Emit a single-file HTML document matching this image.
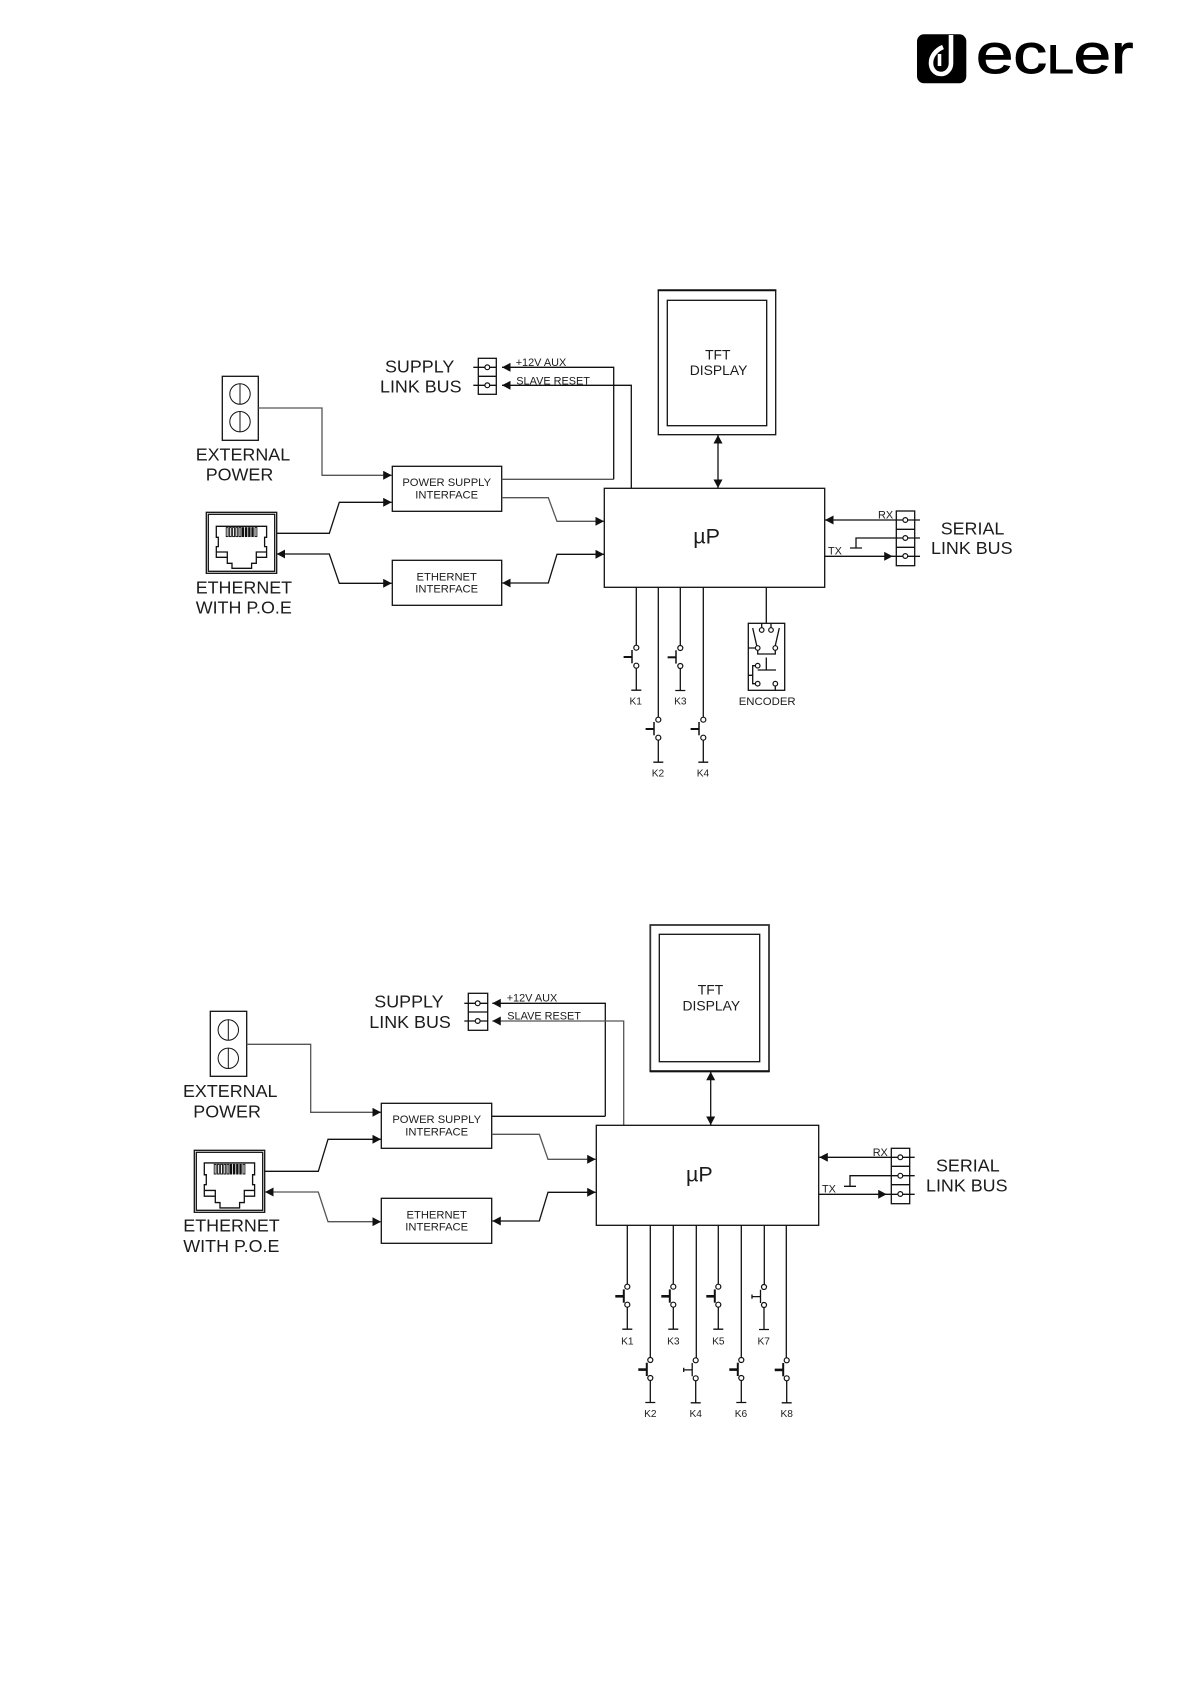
<!DOCTYPE html>
<html>
<head>
<meta charset="utf-8">
<title>Block diagrams</title>
<style>
html,body{margin:0;padding:0;background:#fff}
svg{display:block}
text{font-family:"Liberation Sans",Arial,sans-serif;fill:#1c1c1c}
.l,.m,.s,.d,.u,.k,.e{transform:translateY(-.6px)}
.l{font-size:17.9px}
.m{font-size:11.2px}
.s{font-size:10.9px}
.d{font-size:13.9px}
.u{font-size:21.5px}
.k{font-size:10.2px;text-anchor:middle}
.e{font-size:11.4px}
.c{text-anchor:middle}
.w{fill:none;stroke:#111;stroke-width:1.3}
.g{fill:none;stroke:#555;stroke-width:1.3}
.b{fill:#fff;stroke:#111;stroke-width:1.2}
.a{marker-end:url(#ah)}
.aa{marker-start:url(#ah);marker-end:url(#ah)}
</style>
</head>
<body>
<svg width="1191" height="1684" viewBox="0 0 1191 1684" xmlns="http://www.w3.org/2000/svg">
<defs>
<marker id="ah" markerUnits="userSpaceOnUse" markerWidth="9" markerHeight="9" refX="8.5" refY="4.5" orient="auto-start-reverse">
<path d="M0,0 L8.5,4.5 L0,9 z" fill="#111"/>
</marker>
<g id="pt">
<path class="w" d="M0,20.4 V42.5 M-5,42.5 H5"/>
<circle class="b" cx="0" cy="0" r="2.5"/>
<circle class="b" cx="0" cy="18" r="2.5"/>
</g>
<g id="s1">
<use href="#pt"/>
<path fill="none" stroke="#111" stroke-width="1.5" d="M-4.3,2.3 V15.6"/>
<path fill="none" stroke="#111" stroke-width="2" d="M-12.7,9.3 H-4.3"/>
</g>
<g id="s2">
<use href="#pt"/>
<path fill="none" stroke="#111" stroke-width="2" d="M-3.5,2.7 V16"/>
<path fill="none" stroke="#111" stroke-width="2.6" d="M-12,9.6 H-3.5"/>
</g>
<g id="s3">
<use href="#pt"/>
<path class="w" d="M-3.5,2.7 V16 M-12,9.6 H-3.5 M-12,7.5 V11.7"/>
</g>
<g id="jk">
<path class="w" d="M10,14 H60.3 V25 H58.3 V34.3 H60.3 V45 H50 V51 H45.3 V56 H25.7 V51 H21 V45 H10 V34.3 H12 V25 H10 z M10,39.7 H21 V45 M60.3,39.7 H50 V45"/>
<g fill="none" stroke="#111" stroke-width=".9">
<rect x="19.9" y="15.3" width="1.9" height="9"/><rect x="23.1" y="15.3" width="1.9" height="9"/><rect x="26.3" y="15.3" width="1.9" height="9"/><rect x="29.5" y="15.3" width="1.9" height="9"/><rect x="32.7" y="15.3" width="1.9" height="9"/>
<rect x="35.9" y="15.3" width="1.5" height="9" fill="#111"/><rect x="39.1" y="15.3" width="1.5" height="9" fill="#111"/><rect x="42.3" y="15.3" width="1.5" height="9" fill="#111"/><rect x="45.5" y="15.3" width="1.5" height="9" fill="#111"/><rect x="48.7" y="15.3" width="1.9" height="9"/>
</g>
</g>
<g id="sc">
<circle cx="0" cy="0" r="10.2" fill="none" stroke="#111" stroke-width="1"/>
<path d="M0,-10 V10" stroke="#111" stroke-width="1"/>
</g>
</defs>

<!-- logo -->
<rect x="917" y="34.3" width="49.3" height="49" rx="7" fill="#000"/>
<path d="M951 35 V63 C951 70 946 74 941 74 C935 74 931 69 931 63 C931 56 936 50 943 47" fill="none" stroke="#fff" stroke-width="4.6"/>
<path d="M939.5 54 V66" fill="none" stroke="#fff" stroke-width="3.6"/>
<text transform="translate(976,73) scale(1.2,1)" stroke="#000" stroke-width="1" style="fill:#000;font-size:56px">ec<tspan style="font-size:40px">L</tspan>er</text>

<!-- TOP DIAGRAM -->
<rect class="w" x="222.3" y="376.3" width="36" height="64"/>
<use href="#sc" x="240" y="394"/><use href="#sc" x="240" y="421.7"/>
<text class="l" x="195.7" y="461">EXTERNAL</text>
<text class="l" x="205.7" y="481">POWER</text>
<path class="g a" d="M258.3,408 H322 V475.3 H391.7"/>

<rect class="w" x="392.3" y="466.3" width="109.4" height="45"/>
<text class="m c" x="446.7" y="486.7">POWER SUPPLY</text>
<text class="m c" x="446.7" y="499">INTERFACE</text>
<rect class="w" x="392.3" y="560.3" width="109.4" height="45"/>
<text class="m c" x="446.7" y="581">ETHERNET</text>
<text class="m c" x="446.7" y="593.3">INTERFACE</text>

<rect class="w" x="206.3" y="512.3" width="70.4" height="61"/>
<rect class="w" x="208.3" y="514.3" width="66.4" height="57"/>
<use href="#jk" transform="translate(206.3,512.3)"/>
<text class="l" x="195.7" y="594">ETHERNET</text>
<text class="l" x="195.7" y="614.3">WITH P.O.E</text>

<path class="w a" d="M276.7,533.3 H329.3 L339.3,502.3 H391.7"/>
<path class="w aa" d="M276.7,554 H329.3 L339.3,583.3 H391.7"/>
<path class="g a" d="M501.7,497.7 H548.3 L557,521.3 H604"/>
<path class="w aa" d="M502.2,583 H548.3 L557,554.3 H604"/>

<path class="g" d="M501.7,479.3 H613.7"/>
<path class="w a" d="M613.7,479.3 V367.3 H502"/>
<path class="w a" d="M631.3,488.3 V385.3 H502"/>
<rect class="w" x="478.3" y="358.3" width="18" height="36"/>
<path class="w" d="M478.3,376.3 H496.3 M473.3,367.3 H496.3 M473.3,385.3 H496.3"/>
<circle class="b" cx="487.3" cy="367.3" r="2.4"/>
<circle class="b" cx="487.3" cy="385.3" r="2.4"/>
<text class="s" x="515.7" y="366.7">+12V AUX</text>
<text class="s" x="516.3" y="385">SLAVE RESET</text>
<text class="l" x="385" y="373.3">SUPPLY</text>
<text class="l" x="380" y="393.3">LINK BUS</text>

<rect class="w" x="658.3" y="290.3" width="117.4" height="144.4"/>
<path d="M657.7,290.3 H776.3" stroke="#111" stroke-width="2"/>
<rect class="w" x="667.3" y="300.3" width="99.4" height="125.4"/>
<text class="d c" x="717.8" y="360">TFT</text>
<text class="d c" x="718.6" y="375.7">DISPLAY</text>
<path class="w aa" d="M718,435 V488"/>

<rect class="w" x="604.3" y="488.3" width="220.4" height="99"/>
<text class="u" x="693.3" y="544.3">µP</text>

<path class="w a" d="M920,520 H825"/>
<path class="w" d="M920,538 H856 V548 M850,548 H862"/>
<path class="w a" d="M824.7,556.3 H892.7"/>
<path class="w" d="M892,556.3 H920"/>
<rect class="w" x="896.3" y="511" width="18.4" height="54.7"/>
<path class="w" d="M896.3,529.3 H914.7 M896.3,547.3 H914.7"/>
<circle class="b" cx="905.3" cy="520" r="2.4"/>
<circle class="b" cx="905.3" cy="538" r="2.4"/>
<circle class="b" cx="905.3" cy="556" r="2.4"/>
<text class="s" x="878" y="519">RX</text>
<text class="s" x="828" y="555.3">TX</text>
<text class="l" x="940.7" y="535">SERIAL</text>
<text class="l" x="931" y="554.7">LINK BUS</text>

<path class="w" d="M636.3,587.3 V645.5 M658.3,587.3 V717.5 M680.3,587.3 V645.8 M703.3,587.3 V717.5 M766.3,587.3 V623.3"/>
<use href="#s1" x="636.3" y="647.7"/>
<use href="#s1" x="680.3" y="648"/>
<use href="#s1" x="658.3" y="719.7"/>
<use href="#s1" x="703.3" y="719.7"/>
<text class="k" x="635.7" y="705.3">K1</text>
<text class="k" x="680.3" y="705.3">K3</text>
<text class="k" x="658" y="777.3">K2</text>
<text class="k" x="703" y="777.3">K4</text>

<rect class="w" x="748.3" y="623.3" width="36.4" height="67"/>
<path class="w" d="M761.7,623.3 V628 M771,623.3 V628 M752.7,628 L756.7,645.5 M779.3,628 L775.3,645.5 M748.3,648 H755.5 M757.7,650 V654 H775.3 V650 M766.3,657.5 V670 M757.7,670 H776 M755.5,665.7 H752.7 V683.7 H755.5 M748.3,675.3 H752.7 M775.3,685.9 V690.3"/>
<circle class="b" cx="761.7" cy="630" r="2.3"/><circle class="b" cx="771" cy="630" r="2.3"/>
<circle class="b" cx="757.7" cy="648" r="2.3"/><circle class="b" cx="775.3" cy="648" r="2.3"/>
<circle class="b" cx="757.7" cy="665.7" r="2.3"/>
<circle class="b" cx="757.7" cy="683.7" r="2.3"/><circle class="b" cx="775.3" cy="683.7" r="2.3"/>
<text class="e" x="738.7" y="705.7">ENCODER</text>

<!-- BOTTOM DIAGRAM -->
<rect class="w" x="210.3" y="1011.3" width="36.4" height="65"/>
<use href="#sc" x="228.3" y="1030"/><use href="#sc" x="228.3" y="1058.3"/>
<text class="l" x="183" y="1097.7">EXTERNAL</text>
<text class="l" x="193.3" y="1118">POWER</text>
<path class="g a" d="M246.7,1044.3 H310.7 V1112.3 H381"/>

<rect class="w" x="381.3" y="1103.3" width="110.4" height="45"/>
<text class="m c" x="436.7" y="1123.7">POWER SUPPLY</text>
<text class="m c" x="436.7" y="1136">INTERFACE</text>
<rect class="w" x="381.3" y="1198.3" width="110.4" height="45"/>
<text class="m c" x="436.7" y="1219">ETHERNET</text>
<text class="m c" x="436.7" y="1231.3">INTERFACE</text>

<rect class="w" x="194.3" y="1150.3" width="70.4" height="62"/>
<rect class="w" x="196.3" y="1152.3" width="66.4" height="58"/>
<use href="#jk" transform="translate(194.3,1148) scale(1,1.07)"/>
<text class="l" x="183.3" y="1232.3">ETHERNET</text>
<text class="l" x="183.3" y="1252.7">WITH P.O.E</text>

<path class="w a" d="M264.7,1171.3 H318.3 L328,1139.3 H381"/>
<path class="g aa" d="M265,1192 H318.3 L328,1221.7 H381"/>
<path class="g a" d="M491.7,1134.3 H539.3 L548,1159.3 H595.7"/>
<path class="w aa" d="M492.3,1221 H539.3 L548,1192.3 H595.7"/>

<path class="w" d="M491.7,1116.3 H605.3"/>
<path class="w a" d="M605.3,1116.3 V1003.3 H492.3"/>
<path class="g a" d="M623.7,1125.3 V1021 H492.3"/>
<rect class="w" x="468.3" y="993.3" width="19.4" height="37"/>
<path class="w" d="M468.3,1012 H487.7 M464.3,1003.3 H487.7 M464.3,1021 H487.7"/>
<circle class="b" cx="477.7" cy="1003.3" r="2.4"/>
<circle class="b" cx="477.7" cy="1021" r="2.4"/>
<text class="s" x="506.7" y="1002">+12V AUX</text>
<text class="s" x="507.3" y="1020.3">SLAVE RESET</text>
<text class="l" x="374.3" y="1008.3">SUPPLY</text>
<text class="l" x="369.3" y="1028.7">LINK BUS</text>

<rect x="650.3" y="925" width="118.7" height="146.3" fill="none" stroke="#333" stroke-width="1.8"/>
<path d="M650,1071.3 H769.5" stroke="#111" stroke-width="2"/>
<rect class="w" x="659.3" y="934.3" width="100.4" height="127.4"/>
<text class="d c" x="710.5" y="995.3">TFT</text>
<text class="d c" x="711.3" y="1011">DISPLAY</text>
<path class="w aa" d="M710.7,1071.8 V1125"/>

<rect class="w" x="596.3" y="1125.3" width="222.4" height="100"/>
<text class="u" x="686" y="1182.3">µP</text>

<path class="w a" d="M914.7,1157.3 H819.3"/>
<path class="w" d="M914.7,1175.7 H850 V1186.3 M844,1186.3 H856"/>
<path class="w a" d="M818.7,1194.3 H886.7"/>
<path class="w" d="M886,1194.3 H914.7"/>
<rect class="w" x="891.3" y="1148.3" width="18.4" height="55.4"/>
<path class="w" d="M891.3,1166.3 H909.7 M891.3,1184.7 H909.7"/>
<circle class="b" cx="900.3" cy="1157.3" r="2.4"/>
<circle class="b" cx="900.3" cy="1175.7" r="2.4"/>
<circle class="b" cx="900.3" cy="1194" r="2.4"/>
<text class="s" x="872.7" y="1156.7">RX</text>
<text class="s" x="822" y="1193">TX</text>
<text class="l" x="936" y="1172">SERIAL</text>
<text class="l" x="926" y="1192">LINK BUS</text>

<path class="w" d="M627.3,1225.3 V1284.5 M650.3,1225.3 V1357.8 M673.3,1225.3 V1284.5 M696.3,1225.3 V1357.8 M718.3,1225.3 V1284.5 M741.3,1225.3 V1357.8 M764.3,1225.3 V1284.5 M786.3,1225.3 V1357.8"/>
<use href="#s2" x="627.3" y="1286.7"/>
<use href="#s2" x="673.3" y="1286.7"/>
<use href="#s2" x="718.3" y="1286.7"/>
<use href="#s3" x="764" y="1287"/>
<use href="#s2" x="650.3" y="1360"/>
<use href="#s3" x="695.7" y="1360.3"/>
<use href="#s2" x="741.3" y="1360"/>
<use href="#s2" x="786.7" y="1360.3"/>
<text class="k" x="627.3" y="1345">K1</text>
<text class="k" x="673.3" y="1345">K3</text>
<text class="k" x="718.3" y="1345">K5</text>
<text class="k" x="763.7" y="1345">K7</text>
<text class="k" x="650.3" y="1417.7">K2</text>
<text class="k" x="695.7" y="1417.7">K4</text>
<text class="k" x="741" y="1417.7">K6</text>
<text class="k" x="786.7" y="1417.7">K8</text>
</svg>
</body>
</html>
